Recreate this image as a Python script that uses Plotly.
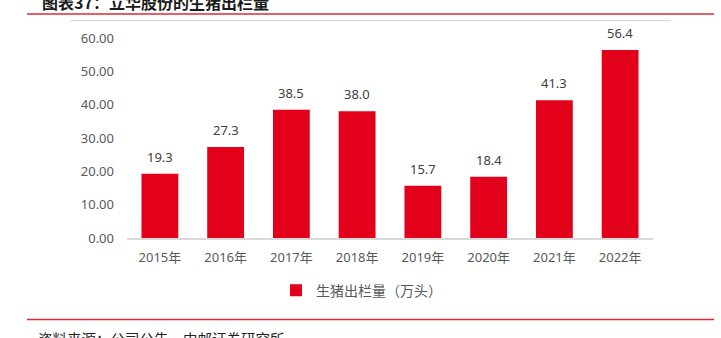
import plotly.graph_objects as go

categories = ["2015年", "2016年", "2017年", "2018年", "2019年", "2020年", "2021年", "2022年"]
values = [19.3, 27.3, 38.5, 38.0, 15.7, 18.4, 41.3, 56.4]
value_labels = ["19.3", "27.3", "38.5", "38.0", "15.7", "18.4", "41.3", "56.4"]
y_ticks = [0, 10, 20, 30, 40, 50, 60]
y_tick_labels = ["0.00", "10.00", "20.00", "30.00", "40.00", "50.00", "60.00"]
series_name = "生猪出栏量（万头）"
title_text = "图表37：立华股份的生猪出栏量"
source_text = "资料来源：公司公告，中邮证券研究所"

W, H = 721, 338
L, R, T, B = 127, 653, 38, 238.3
BAR = "#E2001A"
LINE_RED = "#DC2B30"
GRID = "#D9D9D9"
FONT = "Noto Sans, Noto Sans CJK SC, sans-serif"


def px(x):
    return (x - L) / (R - L)


def py(y):
    return (B - y) / (B - T)


fig = go.Figure()
fig.add_trace(go.Bar(
    x=categories, y=values, name=series_name,
    marker=dict(color=BAR, line=dict(width=0)),
    width=0.56,
))

for c, v, t in zip(categories, values, value_labels):
    fig.add_annotation(x=c, y=v, text=t, showarrow=False, yanchor="bottom",
                       yshift=6, font=dict(size=13, color="#404040", family=FONT))

fig.add_annotation(xref="paper", yref="paper", x=px(40), y=py(2), xanchor="left",
                   yanchor="middle", text="<b>" + title_text + "</b>", showarrow=False,
                   font=dict(size=16, color="#1a1a1a", family="Noto Sans CJK SC"))
fig.add_annotation(xref="paper", yref="paper", x=px(36), y=py(338.5), xanchor="left",
                   yanchor="middle", text=source_text, showarrow=False,
                   font=dict(size=14.5, color="#222222", family="Noto Sans CJK SC"))

shapes = [
    dict(type="line", xref="paper", yref="paper", x0=px(27), x1=px(714), y0=py(14), y1=py(14),
         line=dict(color=LINE_RED, width=1.5)),
    dict(type="line", xref="paper", yref="paper", x0=px(27), x1=px(714), y0=py(320), y1=py(320),
         line=dict(color=LINE_RED, width=1.5)),
    dict(type="line", xref="paper", yref="paper", x0=px(70), x1=px(671), y0=py(20.5), y1=py(20.5),
         line=dict(color=GRID, width=1.2)),
]

fig.update_layout(
    width=W, height=H,
    margin=dict(l=L, r=W - R, t=T, b=H - B, pad=0),
    paper_bgcolor="white", plot_bgcolor="white",
    shapes=shapes,
    showlegend=True,
    legend=dict(orientation="h", x=px(276), xanchor="left", y=py(291), yanchor="middle",
                font=dict(size=14, color="#595959", family=FONT), itemwidth=30,
                bgcolor="rgba(0,0,0,0)"),
    bargap=0.44,
    font=dict(family=FONT),
)
fig.update_xaxes(showline=True, linecolor=GRID, linewidth=1.5, showgrid=False, ticks="",
                 tickfont=dict(size=13, color="#595959", family=FONT), ticklabelstandoff=7,
                 fixedrange=True)
fig.update_yaxes(range=[0, 60], tickvals=y_ticks, ticktext=y_tick_labels, showgrid=False,
                 zeroline=False, showline=False, ticks="",
                 tickfont=dict(size=13, color="#595959", family=FONT), ticklabelstandoff=12,
                 fixedrange=True)

fig.write_html("out.html", config={"displayModeBar": False})
